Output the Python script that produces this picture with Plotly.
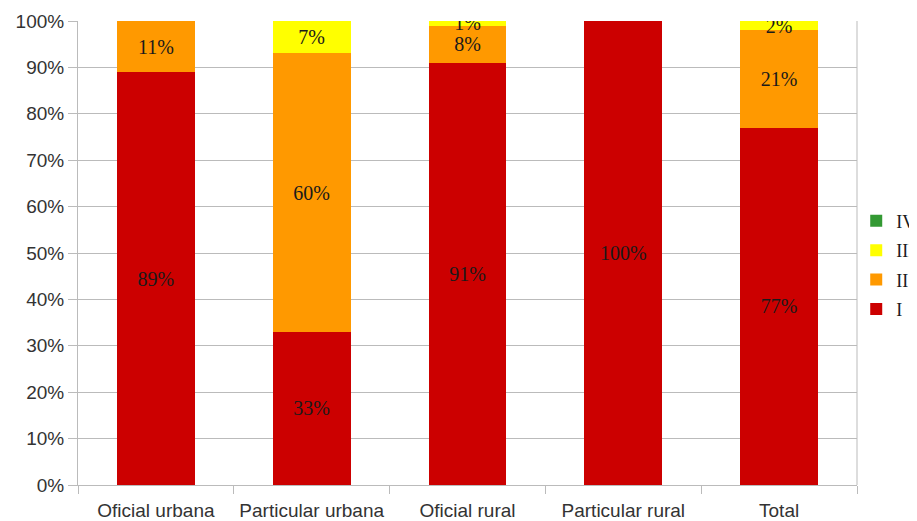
import plotly.graph_objects as go

categories = ["Oficial urbana", "Particular urbana", "Oficial rural", "Particular rural", "Total"]
nivel_I = [89, 33, 91, 100, 77]
nivel_II = [11, 60, 8, 0, 21]
nivel_III = [0, 7, 1, 0, 2]
nivel_IV = [0, 0, 0, 0, 0]
series_names = ["I", "II", "III", "IV"]
series_colors = ["#CC0000", "#FF9900", "#FFFF00", "#339933"]
y_ticks = [0, 10, 20, 30, 40, 50, 60, 70, 80, 90, 100]

fig = go.Figure()
for i, (name, vals, col) in enumerate(zip(series_names, [nivel_I, nivel_II, nivel_III, nivel_IV], series_colors)):
    fig.add_trace(go.Bar(
        x=categories, y=vals, name=name, legendgroup=name, legendrank=10 - i,
        marker=dict(color=col, line=dict(width=0)),
        text=[f"{v}%" if v > 0 else "" for v in vals],
        textposition="inside", insidetextanchor="middle",
        textfont=dict(family="Liberation Serif", size=20, color="#1a1a1a"),
        constraintext="none",
        width=0.5,
    ))

fig.update_layout(
    barmode="stack",
    width=917, height=521,
    margin=dict(l=70, r=68, t=13, b=44, autoexpand=False),
    plot_bgcolor="white", paper_bgcolor="white",
    uniformtext=dict(minsize=1, mode=False),
    legend=dict(
        traceorder="grouped",
        xref="container", x=0.925, xanchor="left",
        y=0.474, yanchor="middle",
        bgcolor="rgba(0,0,0,0)",
        font=dict(family="Liberation Serif", size=18, color="#1a1a1a"),
        itemwidth=30, tracegroupgap=3,
    ),
    showlegend=True,
)
fig.update_yaxes(
    range=[0, 100], tickvals=y_ticks, ticktext=[f"{v}%" for v in y_ticks],
    showgrid=True, gridcolor="#bbbbbb", gridwidth=1, automargin=False,
    showline=True, linecolor="#bbbbbb", ticks="outside", ticklen=9, tickcolor="#bbbbbb",
    tickfont=dict(family="Liberation Sans", size=19, color="#333333"),
    zeroline=False,
)
fig.update_xaxes(
    showline=True, linecolor="#bbbbbb", ticks="outside", ticklen=8, tickcolor="#bbbbbb",
    tickson="boundaries", mirror=False, automargin=False, ticklabelstandoff=8,
    tickfont=dict(family="Liberation Sans", size=19, color="#333333"),
)
fig.add_shape(type="line", xref="paper", yref="paper", x0=1, x1=1, y0=0, y1=1,
              line=dict(color="#bbbbbb", width=1))

fig.write_html("out.html")
